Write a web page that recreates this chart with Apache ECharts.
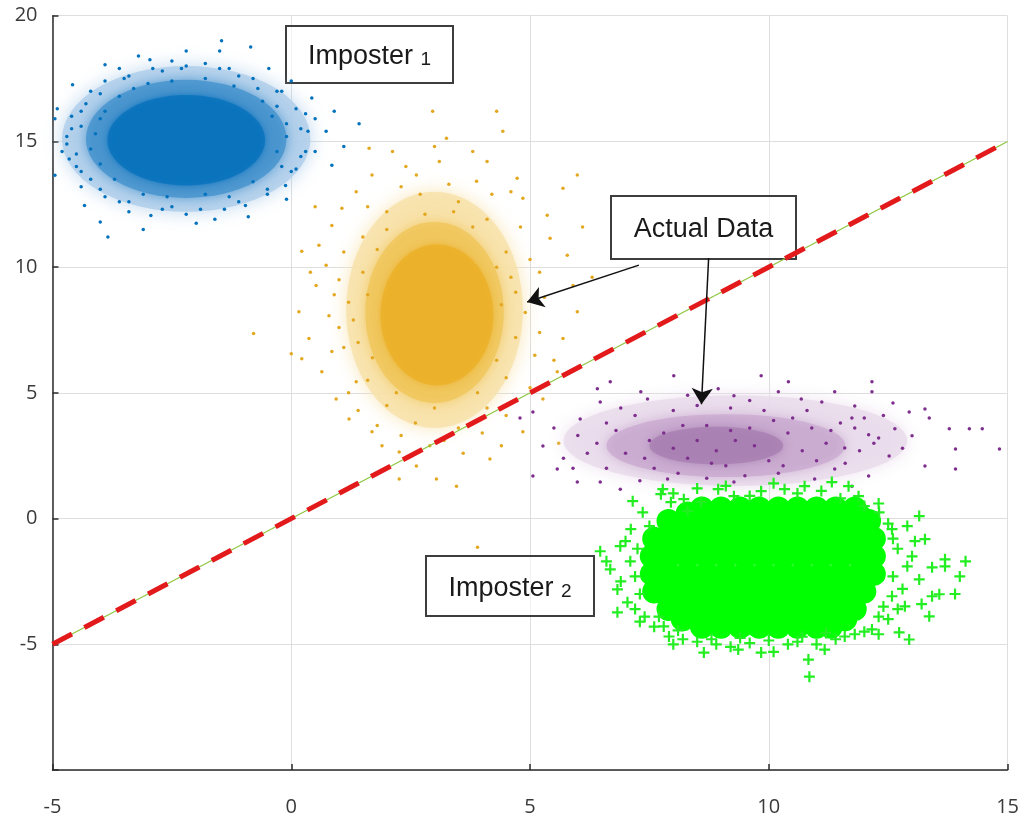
<!DOCTYPE html>
<html><head><meta charset="utf-8">
<script src="https://cdn.jsdelivr.net/npm/echarts@6/dist/echarts.min.js"></script>
<style>html,body{margin:0;padding:0;background:#fff}#c{width:1022px;height:818px}</style>
</head><body><div id="c"></div>
<script>
// ---- axis ticks ----
const xTickValues = [-5, 0, 5, 10, 15];
const yTickValues = [-10, -5, 0, 5, 10, 15, 20];
const yTickLabels = ['', '-5', '0', '5', '10', '15', '20'];

// ---- density regions: [centerX, centerY, halfWidthX, halfHeightY] ----
const blueDensity   = [[-2.2, 15.1, 2.6, 2.9], [-2.2, 15.1, 2.1, 2.35], [-2.2, 15.05, 1.65, 1.8]];
const yellowDensity = [[3.0, 8.3, 1.85, 4.7], [3.0, 8.2, 1.45, 3.6], [3.05, 8.1, 1.18, 2.8]];
const purpleDensity = [[9.3, 3.1, 3.6, 1.8], [9.1, 2.9, 2.5, 1.25], [8.9, 2.9, 1.4, 0.75]];
const greenDensity  = [[9.85, -2.05, 2.45, 2.6]];

// ---- individual points (Imposter 1, blue) ----
const blueDots = [
[-1.46,19.0],[-0.85,18.76],[-1.5,18.6],[-2.96,18.25],[-3.9,18.05],[-2.5,18.2],[-4.58,17.25],[-4.9,16.3],[-4.95,13.65],[-4.33,12.45],
[-3.84,11.2],[-2.94,12.05],[-1.99,11.75],[-0.96,12.45],[-0.12,13.25],[0.43,16.73],[0.73,15.4],[0.85,14.05],[0.0,17.4],[-0.47,17.9],
[1.42,15.7],[1.1,14.8],[-4.7,15.2],[-4.8,14.6],[-4.6,16.0],[-4.4,13.2],[-3.6,17.9],[-3.2,18.4],[-2.2,18.6],[-1.8,18.1],
[-1.1,17.6],[-0.3,16.4],[0.2,15.5],[0.5,14.6],[0.1,13.9],[-0.5,12.9],[-1.4,12.3],[-2.5,12.4],[-3.4,12.2],[-3.9,12.8],
[-4.5,14.0],[-4.2,17.0],[-2.7,17.8],[-0.7,17.1],[0.3,16.1],[-4.0,11.8],[-3.1,11.5],[-1.6,11.9],[-4.95,15.9],[0.9,16.2],
[-4.4,15.6],[-4.5,14.5],[-4.3,16.5],[-3.9,17.4],[-3.4,17.6],[-2.3,17.9],[-1.3,17.9],[-0.2,17.0],[0.5,15.9],[0.2,14.4],
[-0.1,12.7],[-0.9,12.0],[-2.2,12.1],[-3.6,12.6],[-4.2,13.5],
[-4.7,14.9],[-4.6,15.5],[-4.4,16.2],[-4.0,16.9],[-3.5,17.5],[-2.9,17.9],[-2.2,18.0],[-1.5,17.9],[-0.8,17.5],[-0.3,17.0],
[0.1,16.3],[0.35,15.4],[0.3,14.6],[0.0,13.8],[-0.5,13.1],[-1.1,12.6],[-1.9,12.3],[-2.7,12.3],[-3.4,12.6],[-4.0,13.1],
[-4.4,13.8],[-4.65,14.3],[-4.1,15.3],[-3.9,16.2],[-3.0,17.3],[-1.8,17.5],[-0.6,16.6],[-0.1,15.7],[-0.2,14.0],[-1.3,12.8],
[-2.6,12.8],[-3.7,13.5],[-4.2,14.7],[-4.0,15.9],[-3.6,16.8],[-2.5,17.4],[-1.2,17.2],[-0.4,16.0],[-0.3,14.6],[-0.8,13.4],
[-1.8,12.9],[-3.1,12.9],[-4.0,14.1],[-3.3,17.1],[-0.1,15.2]
];

// ---- individual points (Actual Data, yellow) ----
const yellowDots = [
[2.96,16.2],[4.3,16.2],[3.25,15.13],[4.43,15.4],[2.12,14.6],[1.63,14.73],[4.1,14.2],[3.1,14.2],[4.73,13.54],[5.36,12.06],
[5.69,13.14],[5.99,13.66],[1.36,13.0],[0.85,11.66],[0.58,10.87],[0.22,10.63],[0.52,9.27],[0.16,8.23],[0.37,7.16],[0.22,6.36],
[0.64,5.84],[0.94,4.76],[1.21,3.96],[1.69,3.45],[2.26,2.65],[2.62,2.09],[3.04,1.57],[2.26,1.57],[3.46,1.29],[4.16,2.37],
[4.85,3.45],[5.27,4.76],[5.57,5.84],[5.69,7.16],[5.99,8.23],[5.9,9.27],[5.78,10.47],[5.42,11.15],[4.85,12.74],[3.88,13.42],
[2.62,13.66],[1.69,13.66],[1.06,12.34],[0.73,10.07],[0.79,8.07],[0.85,6.64],[1.36,5.44],[-0.79,7.36],[0.0,6.56],[3.9,-1.14],
[1.5,9.8],[1.4,7.0],[1.6,5.5],[2.0,4.5],[2.6,3.8],[3.5,3.6],[4.1,4.4],[4.5,5.6],[4.7,7.2],[4.7,9.0],
[4.5,10.6],[4.1,11.9],[3.5,12.6],[2.7,12.9],[2.0,12.2],[1.5,11.2],[1.2,8.6],[4.9,8.2],[5.1,6.5],[5.2,9.8],
[1.0,9.5],[1.1,6.8],[6.3,9.6],[6.1,11.6],[0.5,12.4],[3.6,2.6],[2.9,2.9],[1.9,2.9],[5.6,3.0],[4.6,13.0],
[1.1,10.6],[0.9,8.9],[1.0,7.6],[1.2,5.0],[1.8,3.7],[2.3,3.3],[3.2,3.1],[4.0,3.4],[4.5,4.1],[5.0,5.2],
[5.2,7.4],[5.3,8.8],[5.0,10.3],[4.8,11.6],[4.2,12.9],[3.3,13.3],[2.3,13.2],[1.6,12.4],[3.0,14.8],[2.4,14.0],
[3.8,14.6],[5.5,6.3],[0.4,9.8],[1.4,4.3],[4.4,2.9],[1.8,10.7],[1.6,8.9],[1.7,6.4],[2.2,5.0],[3.0,4.4],
[3.9,5.0],[4.3,6.3],[4.4,8.5],[4.3,10.0],[3.8,11.6],[2.8,12.1],[2.0,11.5],[4.6,9.6],[1.3,7.9],[3.4,12.2]
];

// ---- individual points (Actual Data, purple) ----
const purpleDots = [
[6.41,5.16],[6.68,5.44],[8.01,5.68],[9.84,5.68],[10.41,5.44],[12.16,5.44],[12.16,5.04],[11.38,5.04],[12.94,4.24],[13.27,4.36],
[13.78,3.57],[14.2,3.57],[14.47,3.57],[14.83,2.77],[13.91,2.77],[13.91,1.97],[13.27,2.09],[13.36,4.0],[12.64,3.57],[13.0,3.29],
[12.52,2.49],[12.09,1.69],[11.74,1.29],[5.06,4.24],[4.79,4.0],[5.27,2.89],[5.57,1.97],[5.99,1.45],[5.06,1.69],[6.47,1.45],
[6.89,1.17],[6.05,3.96],[6.47,4.64],[7.32,5.04],[7.46,4.76],[8.94,5.16],[9.27,4.88],[10.2,5.04],[10.68,4.76],[11.11,4.64],
[11.8,4.48],[11.74,4.0],[12.09,3.33],[11.59,2.81],[11.38,1.97],[10.96,1.57],[9.27,1.45],[7.88,1.57],
[6.8,3.5],[7.0,2.6],[7.2,4.1],[7.5,3.1],[7.6,2.0],[8.0,4.3],[8.1,1.8],[8.5,4.5],[8.7,1.6],[9.2,4.4],
[9.5,1.7],[9.9,4.3],[10.2,1.8],[10.5,4.0],[10.9,3.6],[11.2,3.0],[11.0,2.3],[11.5,3.8],[11.9,2.7],[12.3,3.2],
[6.2,2.6],[6.0,3.3],[5.7,2.4],[6.6,2.0],[7.3,1.5],[12.6,4.6],[12.0,4.0],[6.4,3.0],[6.6,3.8],[5.5,3.6],
[11.8,3.6],[12.2,3.0],[12.8,2.8],[11.6,2.2],[6.9,4.4],[10.8,4.3],[8.3,4.9],[9.6,4.7],[12.4,4.1],[5.9,2.0],
[7.8,3.4],[8.3,2.4],[8.7,3.7],[9.1,2.1],[9.6,3.6],[10.0,2.3],[10.4,3.4],[10.7,2.7],[8.0,2.8],[9.3,3.1],
[8.5,3.1],[8.9,2.7],[9.2,3.5],[9.7,2.9],[8.2,3.7],[10.1,3.9],[7.4,2.4],[11.3,3.5],[8.8,2.2],[10.3,2.1]
];

// ---- Imposter 2 (green) ----
const greenCore = [
[8.6,0.4],[9.0,0.4],[9.4,0.4],[9.8,0.4],[10.2,0.4],[10.6,0.4],[11.0,0.4],[11.4,0.4],[11.8,0.4],
[7.9,-0.1],[8.3,-0.1],[8.7,-0.1],[9.1,-0.1],[9.5,-0.1],[9.9,-0.1],[10.3,-0.1],[10.7,-0.1],[11.1,-0.1],[11.5,-0.1],[11.9,-0.1],[12.1,-0.1],
[7.6,-0.8],[8.0,-0.8],[8.4,-0.8],[8.8,-0.8],[9.2,-0.8],[9.6,-0.8],[10.0,-0.8],[10.4,-0.8],[10.8,-0.8],[11.2,-0.8],[11.6,-0.8],[12.0,-0.8],[12.2,-0.8],
[7.55,-1.5],[7.9,-1.5],[8.3,-1.5],[8.7,-1.5],[9.1,-1.5],[9.5,-1.5],[9.9,-1.5],[10.3,-1.5],[10.7,-1.5],[11.1,-1.5],[11.5,-1.5],[11.9,-1.5],[12.2,-1.5],
[7.55,-2.2],[7.9,-2.2],[8.3,-2.2],[8.7,-2.2],[9.1,-2.2],[9.5,-2.2],[9.9,-2.2],[10.3,-2.2],[10.7,-2.2],[11.1,-2.2],[11.5,-2.2],[11.9,-2.2],[12.2,-2.2],
[7.6,-2.9],[8.0,-2.9],[8.4,-2.9],[8.8,-2.9],[9.2,-2.9],[9.6,-2.9],[10.0,-2.9],[10.4,-2.9],[10.8,-2.9],[11.2,-2.9],[11.6,-2.9],[12.0,-2.9],
[7.9,-3.6],[8.3,-3.6],[8.7,-3.6],[9.1,-3.6],[9.5,-3.6],[9.9,-3.6],[10.3,-3.6],[10.7,-3.6],[11.1,-3.6],[11.5,-3.6],[11.8,-3.6],
[8.6,-4.3],[9.0,-4.3],[9.4,-4.3],[9.8,-4.3],[10.2,-4.3],[10.6,-4.3],[11.0,-4.3],[11.3,-4.3],
[8.2,-4.0],[11.6,-4.0],[8.3,0.2],[11.9,0.1]
];
const greenPlus = [
[6.47,-1.3],[6.83,-3.73],[6.83,-2.82],[7.04,-3.33],[6.68,-2.02],[6.89,-1.1],[7.11,-0.42],[7.15,0.69],[7.36,0.25],[7.78,1.17],
[7.95,0.65],[7.8,-4.29],[7.91,-4.69],[8.64,-5.33],[9.36,-5.21],[9.84,-5.33],[10.83,-5.61],[10.85,-6.29],[11.17,-5.21],[11.59,-4.69],
[12.16,-4.41],[12.94,-4.81],[12.73,-4.53],[12.85,-3.49],[12.58,-3.09],[13.36,-3.89],[13.42,-3.09],[13.57,-3.01],[13.15,-2.42],[13.42,-1.94],
[13.69,-1.62],[13.69,-1.9],[14.12,-1.7],[13.27,-0.82],[13.06,-0.9],[13.0,-1.5],[13.15,0.1],[12.58,-0.42],[12.31,0.25],[11.88,0.89],
[11.67,1.29],[11.32,1.45],[10.75,1.29],[10.33,1.17],[9.84,1.09],[9.27,0.89],[8.94,1.17],[8.58,0.65],[8.22,0.77],[7.74,0.97],
[7.3,-3.0],[7.4,-3.9],[7.6,-4.3],[8.2,-4.8],[8.9,-5.0],[9.6,-4.95],[10.4,-5.0],[11.4,-4.8],[12.0,-4.5],[12.5,-4.0],
[12.6,-2.3],[12.7,-1.2],[12.5,-0.2],[12.3,0.6],[7.2,-2.3],[7.25,-1.2],[7.5,-0.3],[7.1,-1.7],[12.8,-2.8],[8.3,0.3],
[8.0,1.0],[8.5,1.2],[9.1,1.3],[9.6,0.9],[10.1,1.4],[10.6,1.0],[11.1,1.1],[11.5,0.8],[12.0,0.5],[7.0,-0.9],
[6.9,-2.5],[7.2,-3.6],[6.6,-1.7],[7.3,-4.1],[8.0,-5.0],[8.5,-4.9],[9.2,-5.1],[10.1,-5.3],[10.6,-4.9],[11.0,-5.0],
[11.8,-4.6],[12.3,-4.6],[12.6,-0.8],[12.9,-1.9],[12.7,-3.6],[13.2,-3.4],[12.9,-0.3],[12.4,-3.5],[13.9,-3.0],[14.0,-2.3],
[8.8,-4.8],[9.4,-4.75],[10.0,-4.85],[10.7,-4.7],[11.2,-4.55],[8.1,-4.45],[12.3,-3.9],[7.7,-3.9]
];

// ---- boundary line and arrows ----
const boundaryLine = [[-5, -5], [15, 15]];
const arrowLines = [
  [[7.28, 10.08], [4.94, 8.61]],
  [[8.74, 10.36], [8.59, 4.55]]
];
const boxTexts = [
  {main: 'Imposter ', sub: '1'},
  {main: 'Actual Data', sub: ''},
  {main: 'Imposter ', sub: '2'}
];

// ---- styles (kept apart from the data) ----
const densityStyles = {
  blue:   [{c: '#aecdea', b: 18}, {c: '#4592cd', b: 12}, {c: '#0872bc', b: 6}],
  yellow: [{c: '#f7e1a8', b: 18}, {c: '#f0c55a', b: 12}, {c: '#ebb028', b: 6}],
  purple: [{c: '#e8dbeb', b: 16}, {c: '#c9aad0', b: 12}, {c: '#a87fb1', b: 10}],
  green:  [{c: '#00FF00', b: 0}]
};

const chart = echarts.init(document.getElementById('c'));
const FONT = '"Open Sans", "Noto Sans", sans-serif';
const LBLFONT = '"Liberation Sans", Arial, sans-serif';
const plusPath = 'path://M4,0H6V4H10V6H6V10H4V6H0V4H4Z';

const baseOption = {
  animation: false,
  backgroundColor: '#fff',
  grid: {left: 52.5, right: 12.7, top: 15.7, bottom: 48},
  xAxis: {
    type: 'value', min: xTickValues[0], max: xTickValues[xTickValues.length - 1], interval: 5,
    axisLine: {show: true, onZero: false, lineStyle: {color: '#2b2b2b', width: 1.5}},
    axisTick: {show: true, inside: true, length: 6, lineStyle: {color: '#2b2b2b', width: 1.5}},
    splitLine: {show: true, lineStyle: {color: '#dedede', width: 1}},
    axisLabel: {fontSize: 20, fontFamily: FONT, color: '#3a3a3a', margin: 27}
  },
  yAxis: {
    type: 'value', min: yTickValues[0], max: yTickValues[yTickValues.length - 1], interval: 5,
    axisLine: {show: true, onZero: false, lineStyle: {color: '#2b2b2b', width: 1.5}},
    axisTick: {show: true, inside: true, length: 6, lineStyle: {color: '#2b2b2b', width: 1.5}},
    splitLine: {show: true, lineStyle: {color: '#dedede', width: 1}},
    axisLabel: {
      fontSize: 20, fontFamily: FONT, color: '#3a3a3a', margin: 15,
      formatter: function (v) { const i = yTickValues.indexOf(v); return i >= 0 ? yTickLabels[i] : ''; }
    }
  }
};
chart.setOption(baseOption);

// size of a density ellipse, through the chart's own axis scales
function ellipseSize(v) {
  const a = chart.convertToPixel({gridIndex: 0}, [v[0], v[1]]);
  const b = chart.convertToPixel({gridIndex: 0}, [v[0] + v[2], v[1] + v[3]]);
  return [Math.abs(b[0] - a[0]) * 2, Math.abs(a[1] - b[1]) * 2];
}
function density(levels, styles) {
  return {
    type: 'scatter', silent: true, symbol: 'circle', symbolSize: ellipseSize,
    data: levels.map(function (lv, i) {
      return {value: lv, itemStyle: {color: styles[i].c, shadowBlur: styles[i].b, shadowColor: styles[i].b ? styles[i].c : 'transparent'}};
    })
  };
}
function dots(data, color, size, symbol) {
  return {
    type: 'scatter', data: data, symbol: symbol || 'circle', symbolSize: size,
    silent: true, itemStyle: {color: color, opacity: 1}
  };
}
function box(left, top, w, h, t) {
  return {
    type: 'group', left: left, top: top, z: 100,
    children: [
      {type: 'rect', shape: {x: 0, y: 0, width: w, height: h},
       style: {fill: 'rgba(255,255,255,0.6)', stroke: '#3d3d3d', lineWidth: 2}},
      {type: 'text', x: w / 2, y: h / 2 + 1,
       style: {
         text: '{a|' + t.main + '}' + (t.sub ? '{b|' + t.sub + '}' : ''),
         align: 'center', verticalAlign: 'middle',
         rich: {
           a: {fontSize: 27, fontFamily: LBLFONT, fill: '#1a1a1a', verticalAlign: 'bottom', lineHeight: 30},
           b: {fontSize: 19, fontFamily: LBLFONT, fill: '#1a1a1a', verticalAlign: 'bottom', lineHeight: 30, padding: [0, 0, 1, 0]}
         }
       }}
    ]
  };
}

chart.setOption({
  series: [
    density(blueDensity, densityStyles.blue),
    dots(blueDots, '#0072BD', 3.5),
    density(yellowDensity, densityStyles.yellow),
    dots(yellowDots, '#E3A820', 3.5),
    density(purpleDensity, densityStyles.purple),
    dots(purpleDots, '#7E2F8E', 3.5),
    density(greenDensity, densityStyles.green),
    dots(greenCore, '#00FF00', 24),
    dots(greenPlus, '#22EE22', 11, plusPath),
    {
      type: 'line', data: boundaryLine, symbol: 'none', silent: true, z: 5,
      lineStyle: {color: '#8cc63f', width: 1.2, type: 'solid'}
    },
    {
      type: 'line', data: boundaryLine, symbol: 'none', silent: true, z: 6,
      lineStyle: {color: '#e31a1c', width: 5, type: [22, 14]}
    },
    {
      type: 'lines', coordinateSystem: 'cartesian2d', silent: true, z: 8,
      symbol: ['none', 'arrow'], symbolSize: 16,
      lineStyle: {color: '#111', width: 1.5, opacity: 1, curveness: 0},
      data: arrowLines.map(function (c) { return {coords: c}; })
    }
  ],
  graphic: [
    box(285, 25, 167, 57, boxTexts[0]),
    box(610, 195, 185, 63, boxTexts[1]),
    box(425, 555, 168, 60, boxTexts[2])
  ]
});
</script>
</body></html>
